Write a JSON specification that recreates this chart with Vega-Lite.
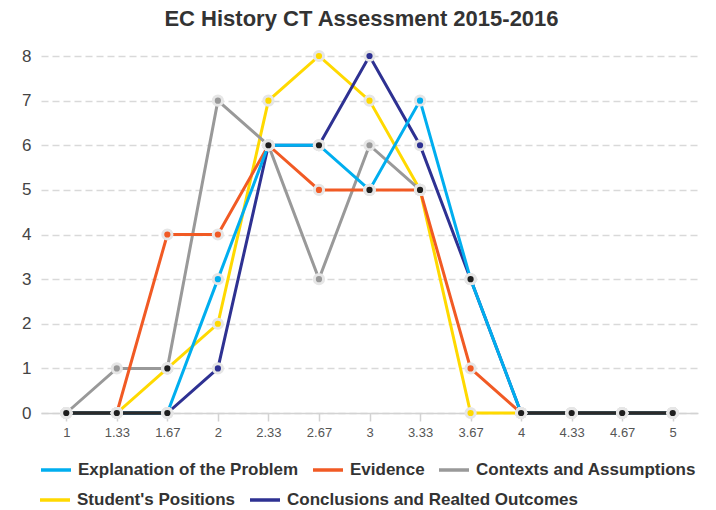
{
  "$schema": "https://vega.github.io/schema/vega-lite/v6.json",
  "autosize": {"type": "none"},
  "width": 657,
  "height": 357,
  "padding": {"left": 41, "top": 56, "right": 18, "bottom": 97},
  "background": "white",
  "title": {
    "text": "EC History CT Assessment 2015-2016",
    "fontSize": 22,
    "fontWeight": "bold",
    "font": "Liberation Sans",
    "color": "#333333",
    "anchor": "middle",
    "offset": 14,
    "dx": -8
  },
  "config": {
    "view": {"stroke": null},
    "font": "Liberation Sans"
  },
  "data": {
    "values": [
      {"series": "Student's Positions", "x": 1, "y": 0},
      {"series": "Student's Positions", "x": 1.33, "y": 0},
      {"series": "Student's Positions", "x": 1.67, "y": 1},
      {"series": "Student's Positions", "x": 2, "y": 2},
      {"series": "Student's Positions", "x": 2.33, "y": 7},
      {"series": "Student's Positions", "x": 2.67, "y": 8},
      {"series": "Student's Positions", "x": 3, "y": 7},
      {"series": "Student's Positions", "x": 3.33, "y": 5},
      {"series": "Student's Positions", "x": 3.67, "y": 0},
      {"series": "Student's Positions", "x": 4, "y": 0},
      {"series": "Student's Positions", "x": 4.33, "y": 0},
      {"series": "Student's Positions", "x": 4.67, "y": 0},
      {"series": "Student's Positions", "x": 5, "y": 0},
      {"series": "Conclusions and Realted Outcomes", "x": 1, "y": 0},
      {"series": "Conclusions and Realted Outcomes", "x": 1.33, "y": 0},
      {"series": "Conclusions and Realted Outcomes", "x": 1.67, "y": 0},
      {"series": "Conclusions and Realted Outcomes", "x": 2, "y": 1},
      {"series": "Conclusions and Realted Outcomes", "x": 2.33, "y": 6},
      {"series": "Conclusions and Realted Outcomes", "x": 2.67, "y": 6},
      {"series": "Conclusions and Realted Outcomes", "x": 3, "y": 8},
      {"series": "Conclusions and Realted Outcomes", "x": 3.33, "y": 6},
      {"series": "Conclusions and Realted Outcomes", "x": 3.67, "y": 3},
      {"series": "Conclusions and Realted Outcomes", "x": 4, "y": 0},
      {"series": "Conclusions and Realted Outcomes", "x": 4.33, "y": 0},
      {"series": "Conclusions and Realted Outcomes", "x": 4.67, "y": 0},
      {"series": "Conclusions and Realted Outcomes", "x": 5, "y": 0},
      {"series": "Contexts and Assumptions", "x": 1, "y": 0},
      {"series": "Contexts and Assumptions", "x": 1.33, "y": 1},
      {"series": "Contexts and Assumptions", "x": 1.67, "y": 1},
      {"series": "Contexts and Assumptions", "x": 2, "y": 7},
      {"series": "Contexts and Assumptions", "x": 2.33, "y": 6},
      {"series": "Contexts and Assumptions", "x": 2.67, "y": 3},
      {"series": "Contexts and Assumptions", "x": 3, "y": 6},
      {"series": "Contexts and Assumptions", "x": 3.33, "y": 5},
      {"series": "Contexts and Assumptions", "x": 3.67, "y": null},
      {"series": "Contexts and Assumptions", "x": 4, "y": 0},
      {"series": "Contexts and Assumptions", "x": 4.33, "y": 0},
      {"series": "Contexts and Assumptions", "x": 4.67, "y": 0},
      {"series": "Contexts and Assumptions", "x": 5, "y": 0},
      {"series": "Evidence", "x": 1, "y": 0},
      {"series": "Evidence", "x": 1.33, "y": 0},
      {"series": "Evidence", "x": 1.67, "y": 4},
      {"series": "Evidence", "x": 2, "y": 4},
      {"series": "Evidence", "x": 2.33, "y": 6},
      {"series": "Evidence", "x": 2.67, "y": 5},
      {"series": "Evidence", "x": 3, "y": 5},
      {"series": "Evidence", "x": 3.33, "y": 5},
      {"series": "Evidence", "x": 3.67, "y": 1},
      {"series": "Evidence", "x": 4, "y": 0},
      {"series": "Evidence", "x": 4.33, "y": 0},
      {"series": "Evidence", "x": 4.67, "y": 0},
      {"series": "Evidence", "x": 5, "y": 0},
      {"series": "Explanation of the Problem", "x": 1, "y": 0},
      {"series": "Explanation of the Problem", "x": 1.33, "y": 0},
      {"series": "Explanation of the Problem", "x": 1.67, "y": 0},
      {"series": "Explanation of the Problem", "x": 2, "y": 3},
      {"series": "Explanation of the Problem", "x": 2.33, "y": 6},
      {"series": "Explanation of the Problem", "x": 2.67, "y": 6},
      {"series": "Explanation of the Problem", "x": 3, "y": 5},
      {"series": "Explanation of the Problem", "x": 3.33, "y": 7},
      {"series": "Explanation of the Problem", "x": 3.67, "y": 3},
      {"series": "Explanation of the Problem", "x": 4, "y": 0},
      {"series": "Explanation of the Problem", "x": 4.33, "y": 0},
      {"series": "Explanation of the Problem", "x": 4.67, "y": 0},
      {"series": "Explanation of the Problem", "x": 5, "y": 0}
    ]
  },
  "encoding": {
    "x": {
      "field": "x",
      "type": "ordinal",
      "scale": {"type": "point", "padding": 0.5},
      "axis": {
        "title": null,
        "labelAngle": 0,
        "labelFontSize": 13,
        "labelColor": "#555555",
        "labelPadding": 5,
        "domainColor": "#d3d3d3",
        "domainWidth": 1.5,
        "tickColor": "#d3d3d3",
        "tickWidth": 1.5,
        "tickSize": 8,
        "grid": false
      }
    },
    "y": {
      "field": "y",
      "type": "quantitative",
      "scale": {"domain": [0, 8], "nice": false},
      "axis": {
        "title": null,
        "values": [0, 1, 2, 3, 4, 5, 6, 7, 8],
        "domain": false,
        "ticks": false,
        "labelFontSize": 17,
        "labelColor": "#444444",
        "labelPadding": 10,
        "gridColor": "#d9d9d9",
        "gridWidth": 1.5,
        "gridDash": [7, 4]
      }
    }
  },
  "layer": [
    {
      "transform": [{"filter": {"field": "series", "oneOf": ["Student's Positions", "Conclusions and Realted Outcomes"]}}],
      "mark": {"type": "line", "strokeWidth": 3, "invalid": "break-paths-filter-domains"},
      "encoding": {
        "color": {
          "field": "series",
          "type": "nominal",
          "scale": {"domain": ["Student's Positions", "Conclusions and Realted Outcomes"], "range": ["#FFD900", "#2E3192"]},
          "legend": {
            "orient": "none", "legendX": -3, "legendY": 427, "direction": "horizontal",
            "title": null, "padding": 0, "labelFontSize": 17, "labelFontWeight": "bold", "labelColor": "#333333",
            "labelLimit": 400, "symbolType": "stroke", "symbolSize": 900, "symbolStrokeWidth": 3.5,
            "labelOffset": 5, "columnPadding": 8
          }
        }
      }
    },
    {
      "transform": [{"filter": {"field": "series", "oneOf": ["Contexts and Assumptions", "Evidence", "Explanation of the Problem"]}}],
      "mark": {"type": "line", "strokeWidth": 3, "invalid": "break-paths-filter-domains"},
      "encoding": {
        "stroke": {
          "field": "series",
          "type": "nominal",
          "scale": {"domain": ["Explanation of the Problem", "Evidence", "Contexts and Assumptions"], "range": ["#00AEEF", "#F15A24", "#999999"]},
          "legend": {
            "orient": "none", "legendX": -2, "legendY": 397, "direction": "horizontal",
            "title": null, "padding": 0, "labelFontSize": 17, "labelFontWeight": "bold", "labelColor": "#333333",
            "labelLimit": 400, "symbolType": "stroke", "symbolSize": 900, "symbolStrokeWidth": 3.5,
            "labelOffset": 5, "columnPadding": 7
          }
        }
      }
    },
    {
      "transform": [{"filter": "datum.series === 'Conclusions and Realted Outcomes' && datum.y === 0 && datum.x <= 1.67"}],
      "mark": {"type": "line", "strokeWidth": 3.5, "color": "#2a2a2a"},
      "encoding": {}
    },
    {
      "transform": [{"filter": "datum.series === 'Conclusions and Realted Outcomes' && datum.y === 0 && datum.x >= 4"}],
      "mark": {"type": "line", "strokeWidth": 3.5, "color": "#2a2a2a"},
      "encoding": {}
    },
    {
      "transform": [{"filter": "isValid(datum.y)"}],
      "mark": {"type": "circle", "size": 85, "opacity": 1, "stroke": "#e6e6e6", "strokeWidth": 3},
      "encoding": {
        "fill": {
          "field": "series",
          "type": "nominal",
          "scale": {
            "domain": ["Explanation of the Problem", "Evidence", "Contexts and Assumptions", "Student's Positions", "Conclusions and Realted Outcomes"],
            "range": ["#00AEEF", "#F15A24", "#999999", "#FFD900", "#2E3192"]
          },
          "legend": null
        }
      }
    },
    {
      "transform": [
        {"filter": "isValid(datum.y)"},
        {"joinaggregate": [{"op": "count", "as": "n"}], "groupby": ["x", "y"]},
        {"filter": "datum.n >= 2"}
      ],
      "mark": {"type": "circle", "size": 85, "opacity": 1, "fill": "#1e1e1e", "stroke": "#e6e6e6", "strokeWidth": 3},
      "encoding": {}
    }
  ]
}
